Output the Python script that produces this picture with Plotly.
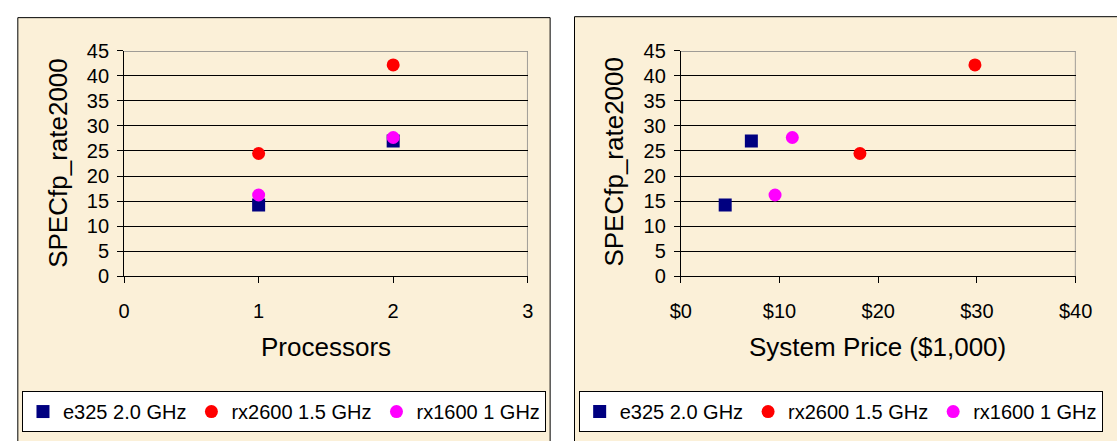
import plotly.graph_objects as go

# ---- data ----
series_names = ["e325 2.0 GHz", "rx2600 1.5 GHz", "rx1600 1 GHz"]
series_colors = ["#000080", "#FF0000", "#FF00FF"]
series_symbols = ["square", "circle", "circle"]

processors_e325 = [1, 2]
processors_rx2600 = [1, 2]
processors_rx1600 = [1, 2]

price_e325 = [4.5, 7.15]
price_rx2600 = [18.15, 29.8]
price_rx1600 = [9.55, 11.3]

spec_e325 = [14.2, 27.0]
spec_rx2600 = [24.5, 42.2]
spec_rx1600 = [16.2, 27.7]

x_left_ticks = [0, 1, 2, 3]
x_right_ticks = [0, 10, 20, 30, 40]
x_right_labels = ["$0", "$10", "$20", "$30", "$40"]
y_ticks = [0, 5, 10, 15, 20, 25, 30, 35, 40, 45]

W, H = 1117, 441
FONT = "Liberation Sans, Arial, sans-serif"
BG = "#FBF0D8"

fig = go.Figure()

left_x = [processors_e325, processors_rx2600, processors_rx1600]
right_x = [price_e325, price_rx2600, price_rx1600]
ys = [spec_e325, spec_rx2600, spec_rx1600]

for i in range(3):
    fig.add_trace(go.Scatter(x=left_x[i], y=ys[i], mode="markers", name=series_names[i],
                             marker=dict(symbol=series_symbols[i], color=series_colors[i], size=13,
                                         line=dict(width=0)),
                             xaxis="x", yaxis="y", legend="legend"))
for i in range(3):
    fig.add_trace(go.Scatter(x=right_x[i], y=ys[i], mode="markers", name=series_names[i],
                             marker=dict(symbol=series_symbols[i], color=series_colors[i], size=13,
                                         line=dict(width=0)),
                             xaxis="x2", yaxis="y2", legend="legend2"))

def px(x):
    return x / W

def py(y):
    return 1 - y / H

ydom = [py(279), py(42)]
tickfont = dict(family=FONT, size=20, color="black")

axis_common = dict(showline=True, linecolor="black", linewidth=1, ticks="outside",
                   ticklen=6, tickcolor="black", tickwidth=1, tickfont=tickfont, zeroline=False)

legend_common = dict(orientation="h", yanchor="top", xanchor="center",
                     bgcolor="white", bordercolor="black", borderwidth=1,
                     font=dict(family=FONT, size=20, color="black"), itemwidth=30,
                     tracegroupgap=0)

fig.update_layout(
    width=W, height=H, margin=dict(l=0, r=0, t=0, b=0),
    paper_bgcolor="white", plot_bgcolor="rgba(0,0,0,0)",
    font=dict(family=FONT, color="black"),
    xaxis=dict(domain=[px(116), px(530)], range=[0, 3], tickmode="array", tickvals=x_left_ticks,
               showgrid=False, anchor="y", ticklabelstandoff=11, **axis_common),
    yaxis=dict(domain=ydom, range=[0, 45], tickmode="array", tickvals=y_ticks, showgrid=True,
               gridcolor="black", gridwidth=1, anchor="x", ticklabelstandoff=4, **axis_common),
    xaxis2=dict(domain=[px(687), px(1092)], range=[0, 40], tickmode="array",
                tickvals=x_right_ticks, ticktext=x_right_labels,
                showgrid=False, anchor="y2", ticklabelstandoff=11, **axis_common),
    yaxis2=dict(domain=ydom, range=[0, 45], tickmode="array", tickvals=y_ticks, showgrid=True,
                gridcolor="black", gridwidth=1, anchor="x2", ticklabelstandoff=4, **axis_common),
    legend=dict(x=px(280), y=py(400), **legend_common),
    legend2=dict(x=px(851), y=py(400), **legend_common),
    showlegend=True,
)

shapes = [
    # panel backgrounds
    dict(type="rect", xref="paper", yref="paper", x0=px(7), x1=px(553), y0=-0.05, y1=py(7),
         fillcolor=BG, line=dict(color="black", width=1), layer="below"),
    dict(type="rect", xref="paper", yref="paper", x0=px(578), x1=1.05, y0=-0.05, y1=py(6),
         fillcolor=BG, line=dict(color="black", width=1), layer="below"),
    # gray plot frames (top and right)
    dict(type="line", xref="x", yref="y", x0=0, x1=3, y0=45, y1=45,
         line=dict(color="#808080", width=1.5), layer="below"),
    dict(type="line", xref="x", yref="y", x0=3, x1=3, y0=0, y1=45,
         line=dict(color="#808080", width=1.5), layer="below"),
    dict(type="line", xref="x2", yref="y2", x0=0, x1=40, y0=45, y1=45,
         line=dict(color="#808080", width=1.5), layer="below"),
    dict(type="line", xref="x2", yref="y2", x0=40, x1=40, y0=0, y1=45,
         line=dict(color="#808080", width=1.5), layer="below"),
]
fig.update_layout(shapes=shapes)

title_font = dict(family=FONT, size=26, color="black")
annotations = [
    dict(text="Processors", x=px(323), y=py(354), xref="paper", yref="paper",
         showarrow=False, font=title_font, xanchor="center", yanchor="middle"),
    dict(text="SPECfp_rate2000", x=px(48), y=py(160), xref="paper", yref="paper",
         showarrow=False, font=title_font, textangle=-90, xanchor="center", yanchor="middle"),
    dict(text="System Price ($1,000)", x=px(889), y=py(354), xref="paper", yref="paper",
         showarrow=False, font=title_font, xanchor="center", yanchor="middle"),
    dict(text="SPECfp_rate2000", x=px(619), y=py(158), xref="paper", yref="paper",
         showarrow=False, font=title_font, textangle=-90, xanchor="center", yanchor="middle"),
]
fig.update_layout(annotations=annotations)

fig.write_html("out.html")
